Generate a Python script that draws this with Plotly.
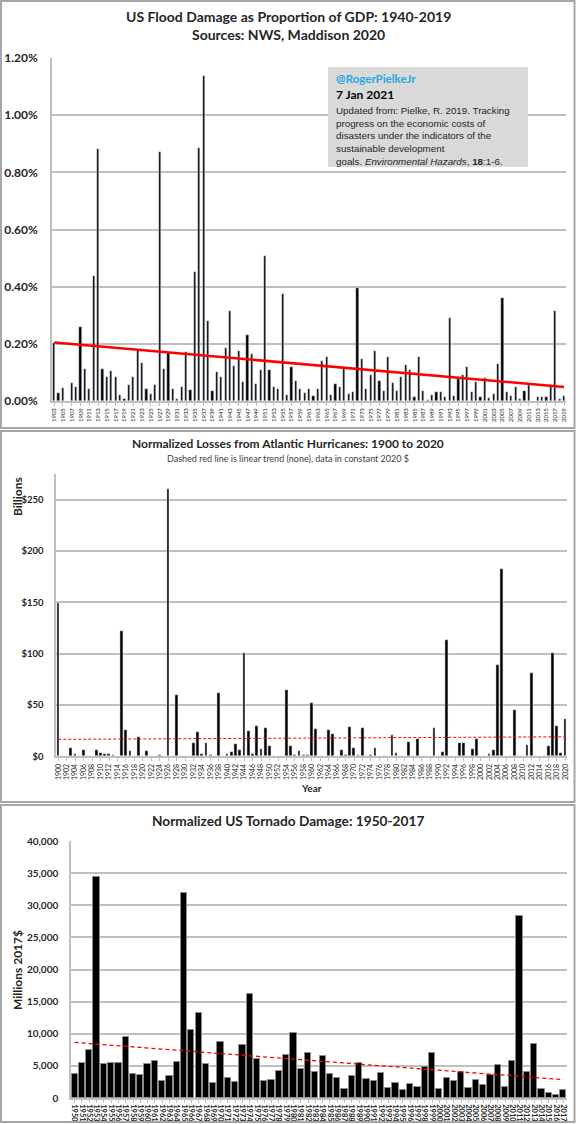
import plotly.graph_objects as go

# ---- data ----
flood_first_year = 1903
flood_pct = [
    0.204, 0.027, 0.045, 0.0, 0.062, 0.050, 0.258, 0.111, 0.041, 0.437,
    0.880, 0.113, 0.085, 0.104, 0.084, 0.021, 0.006, 0.055, 0.085, 0.178,
    0.132, 0.041, 0.024, 0.057, 0.870, 0.111, 0.169, 0.043, 0.008, 0.048,
    0.171, 0.038, 0.450, 0.885, 1.138, 0.279, 0.035, 0.103, 0.085, 0.184,
    0.315, 0.124, 0.174, 0.065, 0.230, 0.164, 0.059, 0.107, 0.509, 0.108,
    0.050, 0.042, 0.373, 0.021, 0.118, 0.070, 0.041, 0.027, 0.041, 0.017,
    0.041, 0.140, 0.155, 0.020, 0.059, 0.048, 0.114, 0.024, 0.030, 0.396,
    0.146, 0.041, 0.091, 0.175, 0.070, 0.035, 0.155, 0.064, 0.036, 0.085,
    0.126, 0.107, 0.013, 0.153, 0.035, 0.003, 0.021, 0.033, 0.033, 0.013,
    0.289, 0.017, 0.078, 0.090, 0.118, 0.031, 0.066, 0.015, 0.079, 0.012,
    0.024, 0.129, 0.361, 0.030, 0.019, 0.049, 0.007, 0.035, 0.056, 0.001,
    0.013, 0.013, 0.013, 0.057, 0.316, 0.007, 0.017,
]
flood_trend_years = [1903, 2019]
flood_trend_pct = [0.205, 0.049]

hurr_first_year = 1900
hurr_bn = [
    149.5, 0.5, 0, 8.5, 2.6, 0, 6.2, 0, 0.5, 5.9,
    2.9, 2.0, 2.0, 1.6, 0, 121.9, 25.8, 4.9, 0.6, 19.0,
    0, 5.6, 0, 0.3, 1.0, 0, 260.5, 0, 60.0, 0.6,
    0, 0, 13.0, 23.9, 2.3, 13.4, 1.3, 0, 62.0, 0.3,
    2.0, 4.2, 11.8, 6.5, 100.3, 24.2, 2.3, 29.4, 6.9, 27.5,
    10.5, 0, 0.5, 0.3, 65.0, 9.6, 0.8, 4.7, 1.0, 1.6,
    52.0, 26.5, 0, 0, 25.8, 21.6, 0.6, 6.5, 1.0, 28.4,
    8.5, 1.0, 27.8, 0, 1.0, 8.2, 0.3, 0.3, 0, 21.2,
    2.9, 0, 0, 14.4, 0.3, 17.0, 0.3, 0.3, 0.3, 27.5,
    0, 4.6, 113.7, 0.3, 0, 13.0, 12.7, 0.3, 7.2, 17.0,
    0, 0, 2.0, 6.5, 89.2, 182.4, 0, 0.3, 45.1, 0,
    0, 11.4, 81.4, 0, 0.3, 0, 9.8, 101.0, 29.7, 3.6,
    36.3,
]
hurr_trend_years = [1900, 2020]
hurr_trend_bn = [16.5, 19.0]

torn_first_year = 1950
torn_musd = [
    3660, 5510, 7420, 34400, 5250, 5410, 5410, 9430, 3660, 3600,
    5250, 5720, 2680, 3450, 5560, 31850, 10660, 13190, 5360, 2270,
    8760, 3140, 2470, 8300, 16120, 6130, 2630, 2780, 4220, 6640,
    10150, 4530, 6950, 3970, 6490, 3810, 3190, 1390, 3400, 5510,
    2940, 2680, 3860, 1490, 2370, 1240, 2160, 1700, 4840, 7060,
    1390, 3040, 2580, 4070, 1550, 2830, 1960, 3600, 5200, 1650,
    5820, 28330, 3970, 8400, 1340, 720, 410, 1240,
]
torn_trend_years = [1950, 2017]
torn_trend_musd = [8650, 2850]

flood_years = list(range(flood_first_year, flood_first_year + len(flood_pct)))
hurr_years = list(range(hurr_first_year, hurr_first_year + len(hurr_bn)))
torn_years = list(range(torn_first_year, torn_first_year + len(torn_musd)))

W, H = 576, 1124
FONT = "Lato"
DARK = "#262626"
GRID = "#bfbfbf"


def fx(x):
    return x / W


def fy(y):
    return 1 - y / H


fig = go.Figure()

# flood panel
fig.add_trace(go.Bar(x=flood_years, y=flood_pct, width=0.5,
                     marker_color="black", xaxis="x", yaxis="y"))
fig.add_trace(go.Scatter(x=flood_trend_years, y=flood_trend_pct, mode="lines",
                         line=dict(color="#ff0000", width=2.5),
                         xaxis="x", yaxis="y"))

# hurricane panel
fig.add_trace(go.Bar(x=hurr_years, y=hurr_bn, width=0.65,
                     marker_color="black", xaxis="x2", yaxis="y2"))
fig.add_trace(go.Scatter(x=hurr_trend_years, y=hurr_trend_bn, mode="lines",
                         line=dict(color="#ff0000", width=1, dash="3px,2px"),
                         xaxis="x2", yaxis="y2"))

# tornado panel
fig.add_trace(go.Bar(x=torn_years, y=torn_musd, width=0.86,
                     marker=dict(color="black", line=dict(color="#8c8c8c", width=1)),
                     xaxis="x3", yaxis="y3"))
fig.add_trace(go.Scatter(x=torn_trend_years, y=torn_trend_musd, mode="lines",
                         line=dict(color="#ff0000", width=1.3, dash="4px,3px"),
                         xaxis="x3", yaxis="y3"))

xcommon = dict(showgrid=False, zeroline=False, showline=True, linecolor=GRID,
               linewidth=1.5, ticks="outside", ticklen=3, tickcolor=GRID,
               automargin=False)
ycommon = dict(showgrid=True, gridcolor=GRID, gridwidth=1.5, zeroline=False,
               showline=True, linecolor=GRID, linewidth=1.5, ticks="",
               automargin=False)

fig.update_layout(
    xaxis=dict(xcommon, domain=[fx(52), fx(566.2)], range=[1902.5, 2019.5],
               tick0=1903, dtick=2, tickangle=-90,
               tickfont=dict(family=FONT, size=6, color=DARK), anchor="y"),
    yaxis=dict(ycommon, domain=[fy(401), fy(58)], range=[0, 1.2], dtick=0.2,
               tickformat=".2f", ticksuffix="%", ticklabelstandoff=10,
               tickfont=dict(family=FONT, size=12, color=DARK, weight="bold"),
               anchor="x"),
    xaxis2=dict(xcommon, domain=[fx(56.2), fx(567.4)], range=[1899.5, 2020.5],
                tick0=1900, dtick=2, tickangle=-90,
                tickfont=dict(family=FONT, size=7, color=DARK), anchor="y2"),
    yaxis2=dict(ycommon, domain=[fy(756.3), fy(474)], range=[0, 275], dtick=50,
                tickprefix="$", ticklabelstandoff=9,
                tickfont=dict(family=FONT, size=9.5, color=DARK, weight="bold"),
                anchor="x2"),
    xaxis3=dict(xcommon, domain=[fx(71), fx(567)], range=[1949.5, 2017.5],
                tick0=1950, dtick=1, tickangle=90,
                tickfont=dict(family=FONT, size=7.5, color=DARK, weight="bold"),
                anchor="y3"),
    yaxis3=dict(ycommon, domain=[fy(1098), fy(841)], range=[0, 40000], dtick=5000,
                tickformat=",d", ticklabelstandoff=9,
                tickfont=dict(family=FONT, size=10, color=DARK, weight="bold"),
                anchor="x3"),
)


def note(text, x, y, size, bold=True, xanchor="center", yanchor="middle",
         color=DARK, angle=0, family=FONT, align="center"):
    fig.add_annotation(text=text, x=fx(x), y=fy(y), xref="paper", yref="paper",
                       showarrow=False, xanchor=xanchor, yanchor=yanchor,
                       textangle=angle, align=align,
                       font=dict(family=family, size=size, color=color,
                                 weight="bold" if bold else "normal"))


# panel titles and axis titles
note("US Flood Damage as Proportion of GDP: 1940-2019", 288, 17, 14)
note("Sources: NWS, Maddison 2020", 288, 35, 14)
note("Normalized Losses from Atlantic Hurricanes: 1900 to 2020", 288, 444, 12)
note("Dashed red line is linear trend (none), data in constant 2020 $", 288, 458,
     9, bold=False, color="#404040")
note("Billions", 17, 497, 12, angle=-90)
note("Year", 311, 788, 10)
note("Normalized US Tornado Damage: 1950-2017", 288, 820, 13.7)
note("Millions 2017$", 17, 970, 12, angle=-90)

# grey source box
fig.add_shape(type="rect", xref="paper", yref="paper", x0=fx(328), x1=fx(528),
              y0=fy(167), y1=fy(67), fillcolor="#d9d9d9", line_width=0)
note("@RogerPielkeJr", 334, 79, 11.5, xanchor="left", color="#29a8e0")
note("7 Jan 2021", 334, 94, 12, xanchor="left", color="black")
note("Updated from: Pielke, R. 2019. Tracking<br>"
     "progress on the economic costs of<br>"
     "disasters under the indicators of the<br>"
     "sustainable development<br>"
     "goals. <i>Environmental Hazards</i>, <b>18</b>:1-6.",
     334, 103, 9.8, bold=False, xanchor="left", yanchor="top", color="#262626",
     family="Liberation Sans", align="left")

# panel borders
for top, bottom in [(1, 428), (431, 802), (805, 1122)]:
    fig.add_shape(type="rect", xref="paper", yref="paper", x0=fx(1), x1=fx(574.5),
                  y0=fy(bottom), y1=fy(top), line=dict(color="#a6a6a6", width=2),
                  fillcolor="rgba(0,0,0,0)")

fig.update_layout(
    width=W, height=H, autosize=False,
    margin=dict(l=0, r=0, t=0, b=0, pad=0),
    showlegend=False,
    plot_bgcolor="white", paper_bgcolor="white",
    font=dict(family=FONT, color=DARK),
    bargap=0,
)

fig.write_html("out.html",
               config={"displayModeBar": False},
               post_script="document.body.style.margin='0px';")
